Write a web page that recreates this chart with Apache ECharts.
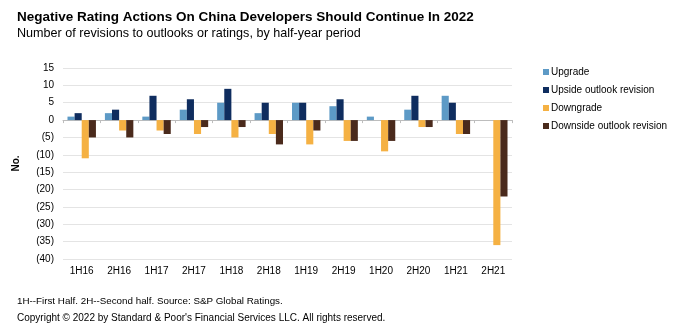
<!DOCTYPE html>
<html><head><meta charset="utf-8">
<script src="https://cdn.jsdelivr.net/npm/echarts@6/dist/echarts.min.js"></script>
<style>html,body{margin:0;padding:0;background:#fff}#c{width:680px;height:332px}</style>
</head><body><div id="c"></div>
<script>
var categories = ['1H16','2H16','1H17','2H17','1H18','2H18','1H19','2H19','1H20','2H20','1H21','2H21'];
var upgrade    = [1, 2, 1, 3, 5, 2, 5, 4, 1, 3, 7, 0];
var upside     = [2, 3, 7, 6, 9, 5, 5, 6, 0, 7, 5, 0];
var downgrade  = [-11, -3, -3, -4, -5, -4, -7, -6, -9, -2, -4, -36];
var downside   = [-5, -5, -4, -2, -2, -7, -3, -6, -6, -2, -4, -22];
var seriesNames = ['Upgrade','Upside outlook revision','Downgrade','Downside outlook revision'];
var colors = ['#5d9ac6','#0f2d5f','#f5b143','#4a2a1c'];

var font = 'Liberation Sans, Arial, sans-serif';
var chart = echarts.init(document.getElementById('c'), null, {renderer:'canvas'});
var data = [upgrade, upside, downgrade, downside];
chart.setOption({
  animation:false,
  textStyle:{fontFamily:font},
  title:[
    {text:'Negative Rating Actions On China Developers Should Continue In 2022', left:12, top:5,
     textStyle:{fontFamily:font,fontSize:13.5,fontWeight:'bold',color:'#000'}},
    {text:'Number of revisions to outlooks or ratings, by half-year period', left:12, top:22,
     textStyle:{fontFamily:font,fontSize:12.6,fontWeight:'normal',color:'#000'}},
    {text:'1H--First Half. 2H--Second half. Source: S&P Global Ratings.', left:12, top:291,
     textStyle:{fontFamily:font,fontSize:9.8,fontWeight:'normal',color:'#000'}},
    {text:'Copyright © 2022 by Standard & Poor\'s Financial Services LLC. All rights reserved.', left:12, top:308,
     textStyle:{fontFamily:font,fontSize:10,fontWeight:'normal',color:'#000'}}
  ],
  legend:{
    orient:'vertical', left:538, top:62, itemWidth:6, itemHeight:6, itemGap:8, icon:'rect',
    textStyle:{fontFamily:font,fontSize:10,color:'#000',padding:[0,0,0,-3]},
    data:seriesNames
  },
  grid:{left:63, top:68, width:449, height:191, containLabel:false},
  xAxis:[{
    type:'category', data:categories, position:'bottom',
    axisLine:{show:false, onZero:false}, axisTick:{show:false},
    axisLabel:{fontFamily:font,fontSize:10,color:'#000',margin:7}
  },{
    type:'category', data:categories, position:'bottom',
    axisLine:{show:true, onZero:true, lineStyle:{color:'#bdbdbd',width:1}},
    axisTick:{show:true, length:3, lineStyle:{color:'#bdbdbd'}},
    axisLabel:{show:false}, splitLine:{show:false}
  }],
  yAxis:{
    type:'value', min:-40, max:15, interval:5,
    name:'No.', nameLocation:'middle', nameGap:42, nameRotate:90,
    nameTextStyle:{fontFamily:font,fontSize:10,fontWeight:'bold',color:'#000'},
    axisLine:{show:false}, axisTick:{show:false},
    axisLabel:{fontFamily:font,fontSize:10,color:'#000',margin:9,
      formatter:function(v){return v<0?'('+(-v)+')':String(v);}},
    splitLine:{lineStyle:{color:'#e4e4e4',width:1}}
  },
  series: seriesNames.map(function(n,i){
    return {name:n, type:'bar', data:data[i], barGap:'0%', barCategoryGap:'24%',
      itemStyle:{color:colors[i]}};
  })
});
</script>
</body></html>
